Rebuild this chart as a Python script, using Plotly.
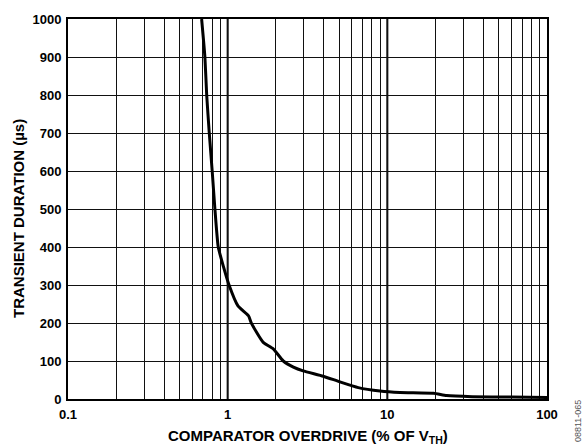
import plotly.graph_objects as go

# Data
overdrive_pct = [0.687, 0.72, 0.739, 0.767, 0.80, 0.832, 0.873, 0.94, 1.02, 1.16,
                 1.35, 1.41, 1.67, 1.93, 2.23, 2.58, 2.97, 3.97, 5.05, 6.58,
                 9.0, 12, 19.5, 23.5, 34, 60, 100]
duration_us = [1000, 900, 800, 700, 600, 500, 400, 349, 300, 245,
               219, 199, 149, 132, 100, 84, 74, 60, 45, 30,
               21, 17, 15, 9, 6, 5, 4]

x_tick_vals = [0.1, 1, 10, 100]
x_tick_text = ["0.1", "1", "10", "100"]
y_tick_vals = [0, 100, 200, 300, 400, 500, 600, 700, 800, 900, 1000]

minor_vals = [m * d for d in (0.1, 1, 10) for m in range(2, 10)]

FONT = "Liberation Sans, Arial, Helvetica, sans-serif"

fig = go.Figure()
fig.add_trace(go.Scatter(
    x=overdrive_pct, y=duration_us, mode="lines",
    line=dict(color="black", width=3, shape="spline", smoothing=0.5),
    showlegend=False, cliponaxis=True, hoverinfo="skip"))

# decade grid lines (thicker)
for v in [1, 10]:
    fig.add_shape(type="line", xref="x", yref="paper", x0=v, x1=v, y0=0, y1=1,
                  line=dict(color="black", width=2), layer="below")

fig.update_xaxes(
    type="log", range=[-1, 2],
    tickvals=x_tick_vals + minor_vals,
    ticktext=x_tick_text + [""] * len(minor_vals),
    showgrid=True, gridcolor="#111", gridwidth=1,
    showline=True, linecolor="black", linewidth=2, mirror=True,
    ticks="outside", ticklen=2, tickcolor="white",
    tickfont=dict(family=FONT, size=13, color="black", weight="bold"),
    zeroline=False,
)
fig.update_yaxes(
    range=[0, 1000], tickvals=y_tick_vals,
    showgrid=True, gridcolor="#111", gridwidth=1,
    showline=True, linecolor="black", linewidth=2, mirror=True,
    ticks="outside", ticklen=2, tickcolor="white",
    tickfont=dict(family=FONT, size=13, color="black", weight="bold"),
    zeroline=False,
)

fig.add_annotation(
    text="COMPARATOR OVERDRIVE (% OF V<sub>TH</sub>)",
    xref="paper", yref="paper", x=0.5, y=0, yshift=-37, yanchor="middle",
    showarrow=False, font=dict(family=FONT, size=15, color="black", weight="bold"))
fig.add_annotation(
    text="TRANSIENT DURATION (µs)", textangle=-90,
    xref="paper", yref="paper", x=0, xshift=-50, y=0.5, yshift=-10,
    xanchor="center", yanchor="middle",
    showarrow=False, font=dict(family=FONT, size=15, color="black", weight="bold"))
fig.add_annotation(
    text="08811-065", textangle=-90,
    xref="paper", yref="paper", x=1, xshift=31, y=0, yshift=-22,
    xanchor="center", yanchor="middle",
    showarrow=False, font=dict(family=FONT, size=9, color="#555"))

fig.update_layout(
    width=584, height=446,
    margin=dict(l=68, r=37, t=15, b=47),
    plot_bgcolor="white", paper_bgcolor="white",
)

fig.write_html("out.html", config={"displayModeBar": False},
               post_script="document.body.style.margin='0';document.body.style.overflow='hidden';")
